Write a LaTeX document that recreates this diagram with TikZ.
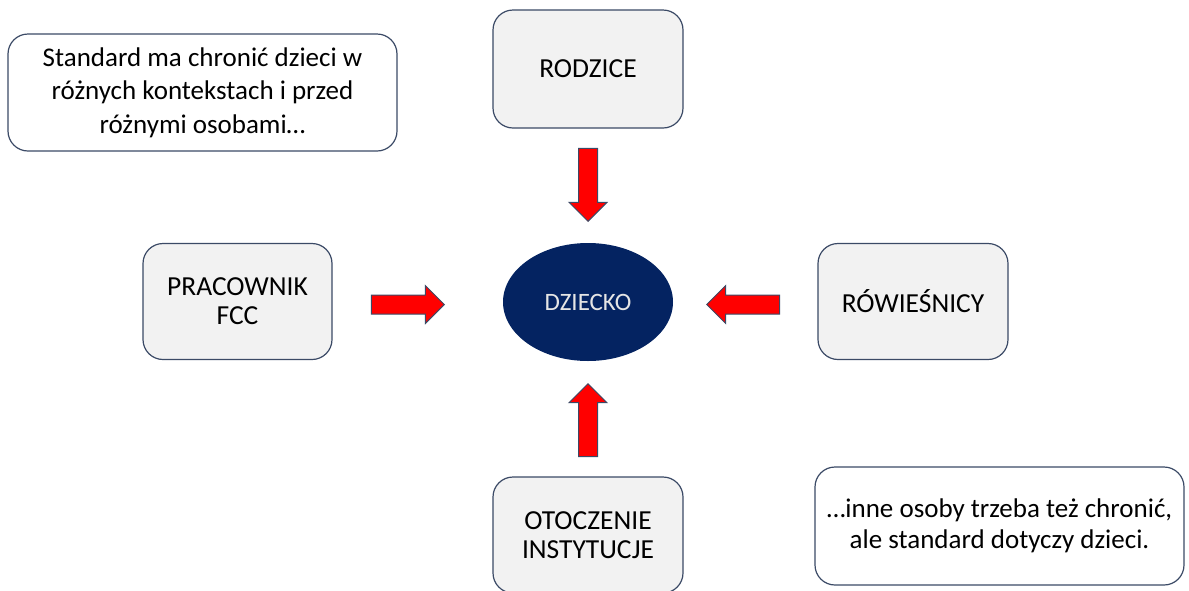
\documentclass[tikz,border=0pt]{standalone}
\usepackage{fontspec}
\setmainfont{Carlito}
\usepackage{tikz}
\usetikzlibrary{shapes.geometric,shapes.arrows,positioning}

\definecolor{boxgray}{HTML}{F2F2F2}
\definecolor{edgeblue}{HTML}{3B4A66}
\definecolor{navy}{HTML}{042361}

\begin{document}
\begin{tikzpicture}[x=1pt,y=-1pt]
		\tikzstyle{group}=[rectangle, rounded corners=20pt, draw=edgeblue, line width=1.2pt, fill=boxgray, minimum width=190pt, minimum height=116pt, align=center, font=\fontsize{27.5}{29}\selectfont]
		\tikzstyle{note}=[rectangle, rounded corners=20pt, draw=edgeblue, line width=1.2pt, fill=white, align=center]
		\tikzstyle{push}=[single arrow, draw=edgeblue, line width=1pt, fill=red, inner sep=9pt, single arrow head extend=9.5pt, minimum height=73pt]
		
		\useasboundingbox (0,0) rectangle (1189,590);
		
		% Child
		\node[ellipse, fill=navy, minimum width=170pt, minimum height=118pt, text=white!90!black, font=\fontsize{25}{30}\selectfont] (child) at (588,302) {DZIECKO};
		
		% Groups
		\node[group, minimum height=118pt] (parents) at (588,69) {RODZICE};
		\node[group, minimum width=189pt] (staff) at (237.5,301.5) {PRACOWNIK\\FCC};
		\node[group] (peers) at (913,301.5) {RÓWIEŚNICY};
		\node[group] (env) at (588,535) {OTOCZENIE\\INSTYTUCJE};
		
		% Arrows
		\node[push, shape border rotate=270, anchor=tip] (a_top) at (588,222) {};
		\node[push, anchor=tip] (a_left) at (445,304.5) {};
		\node[push, shape border rotate=180, anchor=tip] (a_right) at (706,304.5) {};
		\node[push, shape border rotate=90, anchor=tip] (a_bottom) at (588,383) {};
		
		% Text
		\node[note, minimum width=389pt, minimum height=117pt, font=\fontsize{27}{33.5}\selectfont] (note_1) at (202.5,92.5) {Standard ma chronić dzieci w\\różnych kontekstach i przed\\różnymi osobami…};
		\node[note, minimum width=369pt, minimum height=118pt, font=\fontsize{27}{31}\selectfont] (note_2) at (999.5,526) {…inne osoby trzeba też chronić,\\ale standard dotyczy dzieci.};
\end{tikzpicture}
\end{document}
